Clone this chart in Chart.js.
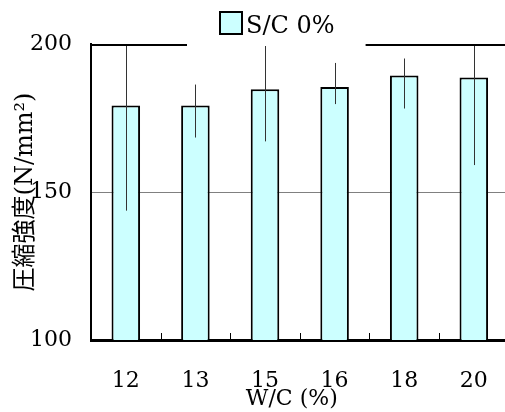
<!DOCTYPE html>
<html>
<head>
<meta charset="utf-8">
<script src="https://cdn.jsdelivr.net/npm/chart.js@4"></script>
<style>
  body { margin: 0; overflow: hidden; background: #fff; }
  canvas { display: block; }
</style>
</head>
<body>
<canvas id="myChart" width="520" height="412"></canvas>
<script>
// data
var wc_labels = ['12', '13', '15', '16', '18', '20']
var strength = [179.2, 179.2, 184.7, 185.5, 189.4, 188.7]
var err_low = [143.7, 168.4, 167.1, 179.7, 178.2, 159.1]
var err_high = [214.7, 186.3, 202.3, 193.6, 195.1, 218.3]
var y_ticks = [100, 150, 200]

var serif = "'DejaVu Serif', 'Noto Sans CJK JP', serif"

// error bars, inside tick marks, broken top frame, legend and x title
var extras = {
    id: 'extras',
    afterDatasetsDraw: function(chart){
        var ctx = chart.ctx
        var area = chart.chartArea
        var x = chart.scales.x
        var y = chart.scales.y
        ctx.save()
        ctx.beginPath()
        ctx.rect(area.left, area.top + 2, area.right - area.left, area.bottom - area.top)
        ctx.clip()
        ctx.strokeStyle = '#333'
        ctx.lineWidth = 1
        for (var i = 0; i < strength.length; i++){
            var px = Math.round(x.getPixelForValue(i)) + 0.5
            ctx.beginPath()
            ctx.moveTo(px, y.getPixelForValue(err_low[i]))
            ctx.lineTo(px, y.getPixelForValue(err_high[i]))
            ctx.stroke()
        }
        ctx.restore()

        // small ticks between categories
        ctx.save()
        ctx.strokeStyle = '#000'
        ctx.lineWidth = 1
        for (var j = 0; j < wc_labels.length - 1; j++){
            var bx = Math.round((x.getPixelForValue(j) + x.getPixelForValue(j + 1)) / 2) + 0.5
            ctx.beginPath()
            ctx.moveTo(bx, area.bottom)
            ctx.lineTo(bx, area.bottom - 7)
            ctx.stroke()
        }
        ctx.restore()
    },
    afterDraw: function(chart){
        var ctx = chart.ctx
        var area = chart.chartArea
        var ds = chart.data.datasets[0]

        // legend
        ctx.save()
        ctx.font = '24px ' + serif
        var boxX = 220, boxY = 12, boxS = 22
        ctx.fillStyle = ds.backgroundColor
        ctx.fillRect(boxX, boxY, boxS, boxS)
        ctx.strokeStyle = '#000'
        ctx.lineWidth = 2
        ctx.strokeRect(boxX, boxY, boxS, boxS)
        ctx.fillStyle = '#000'
        ctx.textBaseline = 'alphabetic'
        ctx.fillText(ds.label, boxX + boxS + 4, boxY + 21)
        var textEnd = boxX + boxS + 4 + ctx.measureText(ds.label).width

        // top frame, broken by the legend
        ctx.lineWidth = 2
        ctx.beginPath()
        ctx.moveTo(area.left, area.top + 1)
        ctx.lineTo(boxX - 33, area.top + 1)
        ctx.moveTo(textEnd + 31, area.top + 1)
        ctx.lineTo(area.right, area.top + 1)
        ctx.stroke()

        // x title
        ctx.font = '22px ' + serif
        ctx.textAlign = 'center'
        ctx.textBaseline = 'middle'
        ctx.fillText('W/C (%)', (area.left + area.right) / 2 - 8, 399)
        ctx.restore()
    }
}

var ctx = document.getElementById('myChart').getContext('2d')
var myChart = new Chart(ctx, {
    type: 'bar',
    data: {
        labels: wc_labels,
        datasets: [{
            label: 'S/C 0%',
            data: strength,
            backgroundColor: '#ccffff',
            borderColor: '#000',
            borderWidth: 2,
            categoryPercentage: 1,
            barPercentage: 0.41
        }]
    },
    options: {
        responsive: false,
        animation: false,
        devicePixelRatio: 1,
        layout: { padding: { top: 44, right: 11.4, left: 0, bottom: 0 } },
        plugins: {
            legend: { display: false },
            tooltip: { enabled: false }
        },
        scales: {
            x: {
                grid: { display: false, drawTicks: false },
                border: { display: true, color: '#000', width: 3 },
                ticks: { color: '#000', font: { family: serif, size: 22 }, padding: 28 },
                afterFit: function(scale){ scale.height = 72 }
            },
            y: {
                min: 100,
                max: 200,
                afterBuildTicks: function(scale){
                    scale.ticks = y_ticks.map(function(v){ return { value: v } })
                },
                grid: {
                    drawTicks: false,
                    color: function(c){ return c.tick && c.tick.value === 150 ? '#808080' : 'rgba(0,0,0,0)' },
                    lineWidth: 1
                },
                border: { display: true, color: '#000', width: 2 },
                ticks: { color: '#000', font: { family: serif, size: 22 }, padding: 19 },
                title: {
                    display: true,
                    text: '圧縮強度(N/mm²)',
                    color: '#000',
                    font: { family: serif, size: 24 },
                    padding: { top: 11, bottom: 0 }
                },
                afterFit: function(scale){ scale.width = 91 }
            }
        }
    },
    plugins: [extras]
})
</script>
</body>
</html>
